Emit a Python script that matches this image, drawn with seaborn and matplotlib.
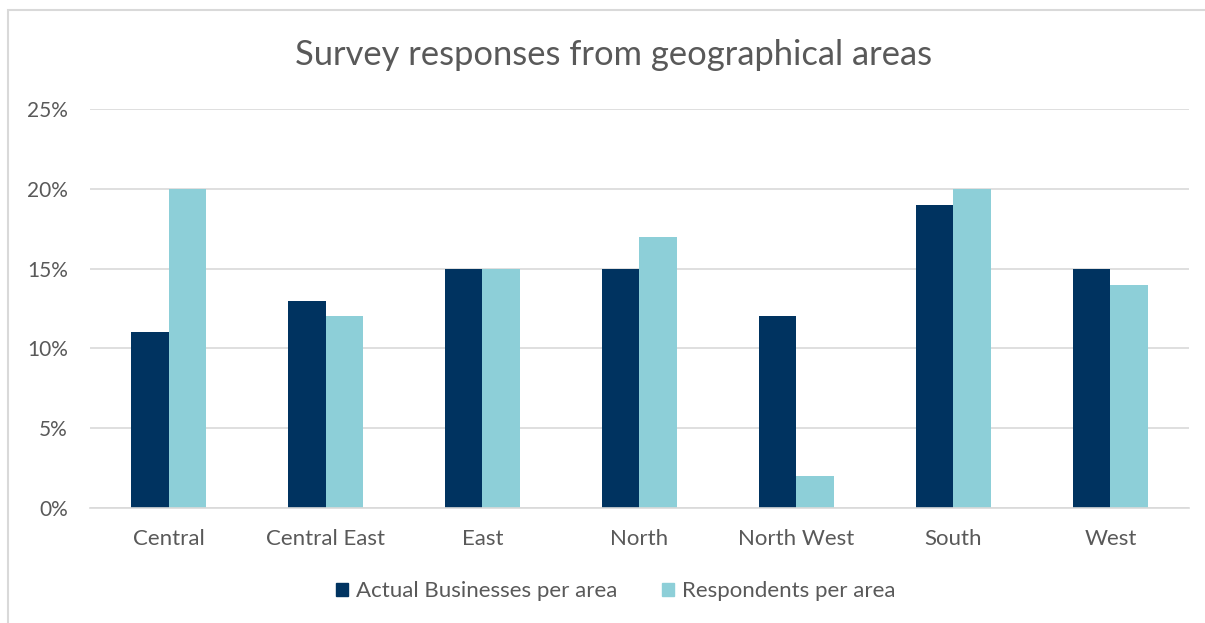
import matplotlib
matplotlib.use("Agg")
import matplotlib.pyplot as plt
import matplotlib.patches as mpatches
from matplotlib.ticker import FuncFormatter
import seaborn as sns
import pandas as pd

categories = ["Central", "Central East", "East", "North", "North West", "South", "West"]
actual_businesses = [11, 13, 15, 15, 12, 19, 15]
respondents = [20, 12, 15, 17, 2, 20, 14]
series_names = ["Actual Businesses per area", "Respondents per area"]
y_ticks = [0, 5, 10, 15, 20, 25]

df = pd.DataFrame({
    "area": categories * 2,
    "value": actual_businesses + respondents,
    "series": [series_names[0]] * len(categories) + [series_names[1]] * len(categories),
})

sns.set_theme(style="white")
plt.rcParams["font.family"] = ["Lato", "DejaVu Sans"]
text_color = "#595959"
dark = "#003360"
light = "#8DCFD8"

fig = plt.figure(figsize=(12.05, 6.23), dpi=100)
ax = fig.add_axes([0.0747, 0.1846, 0.912, 0.6404])

sns.barplot(data=df, x="area", y="value", hue="series", order=categories,
            hue_order=series_names, palette=[dark, light], width=0.48,
            saturation=1, ax=ax, legend=False)
for p in ax.patches:
    p.set_edgecolor("none")

ax.set_ylim(0, 25)
ax.set_yticks(y_ticks)
ax.yaxis.set_major_formatter(FuncFormatter(lambda v, _: f"{int(v)}%"))
ax.grid(axis="y", color="#D9D9D9", linewidth=1.2)
ax.set_axisbelow(True)
for s in ["top", "right", "left"]:
    ax.spines[s].set_visible(False)
ax.spines["bottom"].set_color("#D9D9D9")
ax.spines["bottom"].set_linewidth(1.2)
ax.tick_params(axis="y", length=0, labelsize=15, labelcolor=text_color, pad=16)
ax.tick_params(axis="x", length=0, labelsize=16, labelcolor=text_color, pad=15)
ax.set_xlabel("")
ax.set_ylabel("")
ax.set_xlim(-0.5, len(categories) - 0.5)

fig.text(0.5095, 0.912, "Survey responses from geographical areas", ha="center",
         va="center", fontsize=24.8, color=text_color)

handles = [mpatches.Patch(color=dark, label=series_names[0]),
           mpatches.Patch(color=light, label=series_names[1])]
fig.legend(handles=handles, loc="center", bbox_to_anchor=(0.511, 0.051), ncol=2,
           frameon=False, fontsize=16, labelcolor=text_color, handlelength=0.55,
           handleheight=0.55, handletextpad=0.35, columnspacing=2.0)

border = mpatches.Rectangle((8 / 1205, -0.1), 1.2, 1 - 10 / 623 + 0.1,
                            transform=fig.transFigure, fill=False,
                            edgecolor="#D9D9D9", linewidth=1.5)
fig.patches.append(border)

fig.savefig("out.png", dpi=100, facecolor="white")
